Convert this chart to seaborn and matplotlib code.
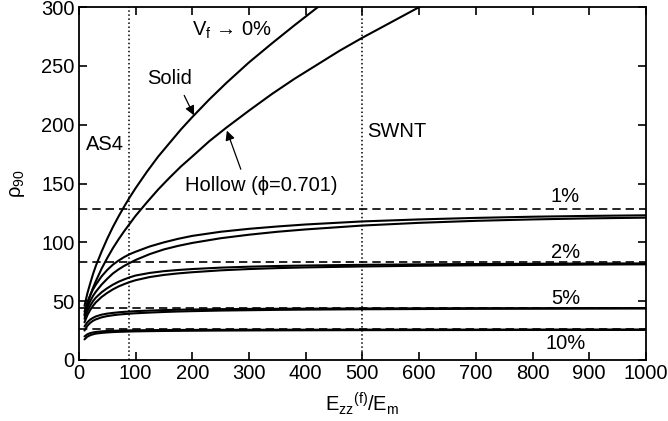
import pandas as pd
import matplotlib.pyplot as plt
import seaborn as sns

# V_f -> 0 curves
x_solid = [10, 15, 20, 25, 30, 40, 50, 60, 70, 80, 90, 100, 120, 140, 160, 180, 200,
           230, 260, 300, 340, 380, 420, 440]
solid = [46, 56.5, 65, 73, 80, 92, 103, 113, 122, 130.5, 138.5, 146, 160, 173, 184.5, 196,
         206.5, 221.5, 235.5, 253, 269, 284.5, 299.5, 306]
x_hollow = [10, 15, 20, 25, 30, 40, 50, 60, 70, 80, 90, 100, 120, 140, 160, 180, 200,
            230, 260, 300, 340, 380, 420, 460, 500, 550, 600, 640]
hollow = [38.7, 47.5, 54.8, 61.3, 67, 77.5, 86.6, 95, 102.5, 109.5, 116, 122.5, 134, 145,
          155, 164.5, 173, 186, 197.5, 212, 226, 239, 251, 263, 274, 287, 300, 310]

# finite volume fractions: upper = solid fibre, lower = hollow fibre
x_sat = [10, 15, 20, 25, 30, 40, 50, 60, 70, 80, 90, 100, 125, 150, 175, 200,
         250, 300, 350, 400, 500, 600, 700, 800, 900, 1000]
p1_up = [41, 49, 55, 60, 64, 71, 76.5, 81, 84.5, 87.5, 90, 92, 96.5, 100, 103, 105.5,
         109, 111.5, 113.5, 115.2, 117.8, 119.5, 120.8, 121.8, 122.5, 123]
p1_lo = [37.5, 44.5, 50, 54.5, 58, 64, 69, 73.5, 77, 80, 82.5, 85, 90, 94, 97, 99.5,
         103.5, 106.5, 109, 111, 114.3, 116.6, 118.3, 119.5, 120.4, 121]
p2_up = [35, 41.5, 46, 50, 53, 57.5, 61, 64, 66.5, 68.5, 70.3, 71.8, 74, 75.5, 76.5, 77.3,
         78.5, 79.3, 79.9, 80.3, 80.9, 81.3, 81.6, 81.8, 82, 82.1]
p2_lo = [32, 38, 42.5, 46, 49, 53.5, 57, 60, 62.5, 64.5, 66.3, 67.8, 70.5, 72.3, 73.6, 74.6,
         76.2, 77.3, 78.1, 78.7, 79.5, 80.1, 80.5, 80.8, 81.1, 81.3]
p5_up = [28.5, 32, 34.3, 35.8, 37, 38.5, 39.4, 40, 40.5, 40.9, 41.2, 41.5, 42, 42.4, 42.7, 42.9,
         43.2, 43.4, 43.5, 43.6, 43.8, 43.9, 44, 44, 44.1, 44.1]
p5_lo = [25, 29, 31.5, 33.3, 34.5, 36.2, 37.3, 38, 38.6, 39, 39.4, 39.7, 40.3, 40.8, 41.2, 41.5,
         42, 42.3, 42.6, 42.8, 43.1, 43.3, 43.5, 43.6, 43.7, 43.8]
p10_up = [20, 21.8, 22.8, 23.4, 23.8, 24.3, 24.6, 24.8, 24.95, 25.05, 25.15, 25.2, 25.35, 25.45,
          25.5, 25.55, 25.6, 25.65, 25.7, 25.7, 25.75, 25.8, 25.8, 25.8, 25.85, 25.85]
p10_lo = [17.5, 19.8, 21, 21.8, 22.4, 23, 23.4, 23.7, 23.9, 24.05, 24.2, 24.3, 24.5, 24.65,
          24.75, 24.85, 25, 25.1, 25.2, 25.25, 25.35, 25.4, 25.45, 25.5, 25.5, 25.55]

# asymptotes (dashed) and their labels
limits = [128.7, 83.5, 44.4, 25.9]
limit_labels = ['1%', '2%', '5%', '10%']
limit_label_y = [139, 91, 52, 14]

# reference fibres (dotted)
fibres = [88, 500]

rows = []
for name, xs, ys in [('solid', x_solid, solid), ('hollow', x_hollow, hollow),
                     ('1u', x_sat, p1_up), ('1l', x_sat, p1_lo),
                     ('2u', x_sat, p2_up), ('2l', x_sat, p2_lo),
                     ('5u', x_sat, p5_up), ('5l', x_sat, p5_lo),
                     ('10u', x_sat, p10_up), ('10l', x_sat, p10_lo)]:
    for xv, yv in zip(xs, ys):
        rows.append([name, xv, yv])
df = pd.DataFrame(rows, columns=['curve', 'E', 'rho'])

sns.set_style('ticks')
plt.rcParams['font.family'] = ['Liberation Sans', 'DejaVu Sans']
plt.rcParams['mathtext.fontset'] = 'custom'
plt.rcParams['mathtext.rm'] = 'Liberation Sans'
plt.rcParams['mathtext.it'] = 'Liberation Sans'
for key in ['text.color', 'axes.labelcolor', 'xtick.color', 'ytick.color', 'axes.edgecolor']:
    plt.rcParams[key] = 'black'
fs = 14.5

fig = plt.figure(figsize=(6.68, 4.21), dpi=100)
ax = fig.add_axes([0.118, 0.145, 0.849, 0.838])

sns.lineplot(data=df, x='E', y='rho', units='curve', estimator=None,
             color='black', linewidth=1.5, sort=False, ax=ax)

for yl in limits:
    ax.axhline(yl, color='black', linestyle=(0, (5, 3)), linewidth=1.2)
for xf in fibres:
    ax.axvline(xf, color='black', linestyle=':', linewidth=1.1)

for lab, ly in zip(limit_labels, limit_label_y):
    ax.text(858, ly, lab, fontsize=fs, ha='center', va='center')

ax.text(12, 183, 'AS4', fontsize=fs, ha='left', va='center')
ax.text(508, 194, 'SWNT', fontsize=fs, ha='left', va='center')
ax.text(200, 280, 'V$_\\mathrm{f}$ \u2192 0%', fontsize=fs, ha='left', va='center')
ax.annotate('Solid', xy=(203, 208), xytext=(160, 239), fontsize=fs,
            ha='center', va='center',
            arrowprops=dict(arrowstyle='-|>', color='black', lw=0.9,
                            mutation_scale=14, shrinkA=3, shrinkB=0,
                            relpos=(0.75, 0.0)))
ax.annotate('Hollow (\u03d5=0.701)', xy=(261, 195), xytext=(188, 148), fontsize=fs,
            ha='left', va='center',
            arrowprops=dict(arrowstyle='-|>', color='black', lw=0.9,
                            mutation_scale=14, shrinkA=3, shrinkB=0,
                            relpos=(0.38, 1.0)))

ax.set_xlim(0, 1000)
ax.set_ylim(0, 300)
ax.set_xticks(range(0, 1001, 100))
ax.set_yticks(range(0, 301, 50))
ax.tick_params(axis='both', direction='in', length=6, width=1.2, labelsize=fs,
               top=True, right=True, pad=3)
for sp in ax.spines.values():
    sp.set_linewidth(1.3)
ax.set_xlabel(r'E$_\mathrm{zz}$$^\mathrm{(f)}$/E$_\mathrm{m}$', fontsize=fs, labelpad=5)
ax.set_ylabel('\u03c1$_\\mathrm{90}$', fontsize=fs, labelpad=10)

plt.savefig('out.png', dpi=100)
